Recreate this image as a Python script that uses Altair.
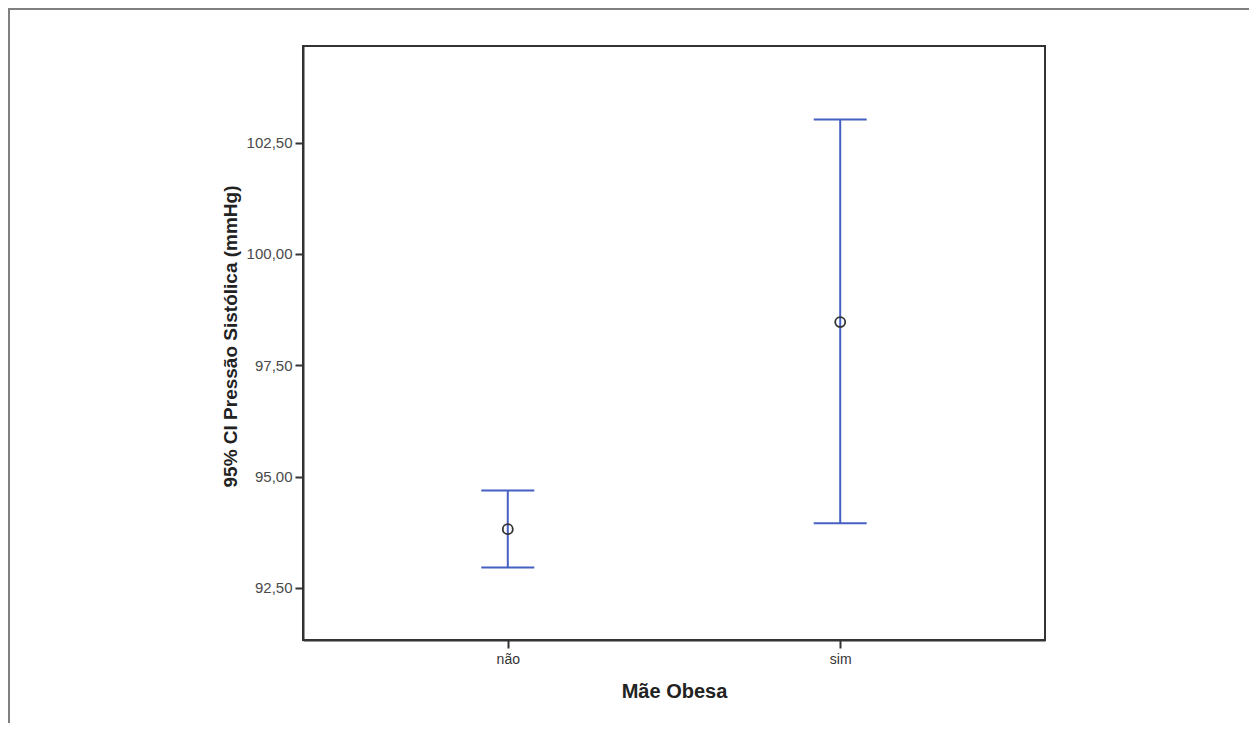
import altair as alt
import pandas as pd

categories = ["não", "sim"]
means = [93.82, 98.47]
lowers = [92.96, 93.95]
uppers = [94.69, 103.02]
y_ticks = [92.5, 95.0, 97.5, 100.0, 102.5]

df = pd.DataFrame({"grupo": categories, "media": means, "inf": lowers, "sup": uppers})

BLUE = "#4560c2"
FONT = "Liberation Sans"

x_enc = alt.X(
    "grupo:O",
    scale=alt.Scale(type="point", domain=categories, padding=0.616),
    axis=alt.Axis(
        title="Mãe Obesa", labelAngle=0, tickSize=8, tickWidth=2, tickColor="#333",
        domainColor="#333", domainWidth=2, labelFontSize=14, labelColor="#333",
        labelPadding=4, titleFontSize=20, titleFontWeight="bold", titleColor="#222",
        titlePadding=15, labelFont=FONT, titleFont=FONT, grid=False,
    ),
)
y_scale = alt.Scale(domain=[91.33, 104.67], nice=False, zero=False)
y_axis = alt.Axis(
    title="95% CI Pressão Sistólica (mmHg)", values=y_ticks,
    labelExpr="replace(format(datum.value, '.2f'), '.', ',')",
    tickSize=8, tickWidth=2, tickColor="#333", domainColor="#333", domainWidth=2,
    labelFontSize=15, labelColor="#4a4a4a", labelPadding=3, titleFontSize=19,
    titleFontWeight="bold", titleColor="#222", titlePadding=6, titleY=290,
    labelFont=FONT, titleFont=FONT, grid=False,
)

base = alt.Chart(df)
rules = base.mark_rule(color=BLUE, strokeWidth=2, opacity=1).encode(
    x=x_enc, y=alt.Y("inf:Q", scale=y_scale, axis=y_axis), y2="sup:Q"
)
caps_top = base.mark_tick(color=BLUE, thickness=2, size=53, opacity=1).encode(
    x=x_enc, y=alt.Y("sup:Q", scale=y_scale, axis=y_axis)
)
caps_bot = base.mark_tick(color=BLUE, thickness=2, size=53, opacity=1).encode(
    x=x_enc, y=alt.Y("inf:Q", scale=y_scale, axis=y_axis)
)
pts = base.mark_point(shape="circle", filled=False, color="#333", strokeWidth=1.8, size=100, opacity=1).encode(
    x=x_enc, y=alt.Y("media:Q", scale=y_scale, axis=y_axis)
)

frame_data = alt.Data(values=[{"a": 1}])
frame_left = alt.Chart(frame_data).mark_rule(color="#808080", strokeWidth=2).encode(
    x=alt.value(-294), y=alt.value(-37), y2=alt.value(690)
)
frame_top = alt.Chart(frame_data).mark_rule(color="#808080", strokeWidth=2).encode(
    x=alt.value(-295), x2=alt.value(956), y=alt.value(-37)
)

chart = alt.layer(frame_left, frame_top, rules, caps_top, caps_bot, pts).properties(
    width=742, height=594,
    background="white",
    autosize=alt.AutoSizeParams(type="none"),
    padding={"left": 295, "top": 38, "right": 204, "bottom": 83},
).configure_view(stroke="#333", strokeWidth=2)

chart.save("out.html", embed_options={"renderer": "svg", "actions": False})
